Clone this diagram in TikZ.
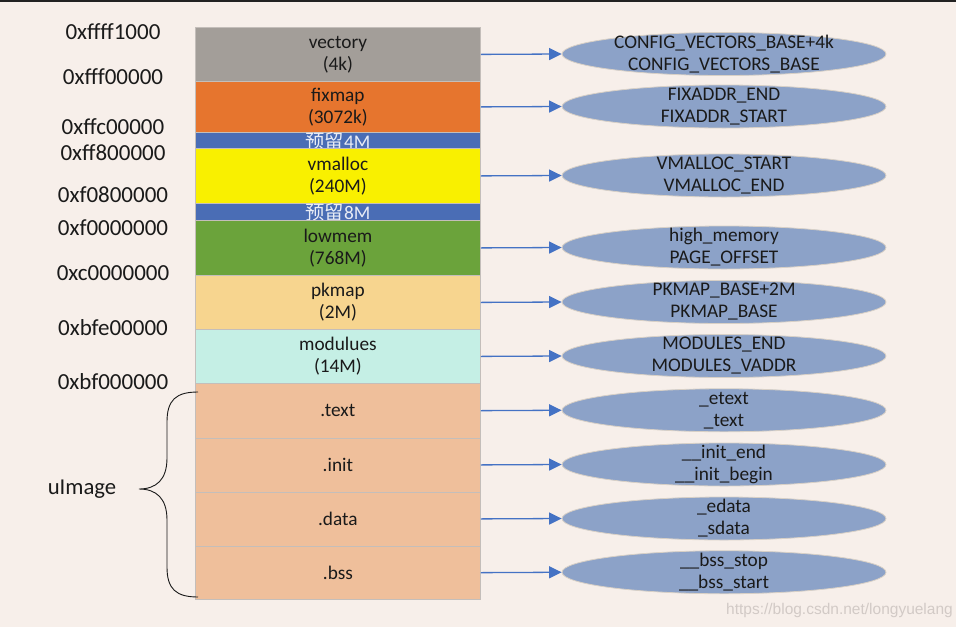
\documentclass[tikz,border=0pt]{standalone}
\usepackage{fontspec}
\setmainfont{Carlito}
\newfontfamily\cjk{Noto Sans CJK SC}
\newfontfamily\wmfont{Liberation Sans}
\usetikzlibrary{arrows.meta,shapes.geometric}
\definecolor{bg}{HTML}{F7EFEA}
\definecolor{topbar}{HTML}{222222}
\definecolor{txt}{HTML}{1A1A1A}
\definecolor{segline}{HTML}{C4BEBA}
\definecolor{cvec}{HTML}{A39E99}
\definecolor{cfix}{HTML}{E6752E}
\definecolor{cres}{HTML}{4A6DB5}
\definecolor{cvm}{HTML}{F9F000}
\definecolor{clow}{HTML}{6BA33B}
\definecolor{cpk}{HTML}{F7D58F}
\definecolor{cmod}{HTML}{C5EFE5}
\definecolor{cimg}{HTML}{EFBF9B}
\definecolor{ellfill}{HTML}{8CA2C8}
\definecolor{ellline}{HTML}{D8D0C6}
\definecolor{arrc}{HTML}{4472C4}
\definecolor{wmc}{HTML}{D2CAC6}
\definecolor{resc}{HTML}{E8ECF5}
\begin{document}
\begin{tikzpicture}[x=1pt,y=-1pt,
  seg/.style={draw=segline, line width=0.8pt, minimum width=285pt, inner sep=0pt,
    anchor=north west, align=center, font=\fontsize{19.3}{22}\selectfont, text=txt},
  ell/.style={ellipse, fill=ellfill, draw=ellline, line width=0.8pt,
    minimum width=324pt, minimum height=43pt, inner sep=0pt},
  lbl/.style={align=center, font=\fontsize{19.3}{22}\selectfont, text=txt, inner sep=0pt},
  addr/.style={font=\fontsize{23}{26}\selectfont, text=txt, inner sep=0pt},
  arr/.style={draw=arrc, line width=1.3pt, -{Triangle[length=12.5pt,width=12pt]}},
  brace/.style={draw=txt, line width=0.9pt}]
\useasboundingbox (0,0) rectangle (956,627);
\fill[bg] (0,0) rectangle (956,627);
\fill[topbar] (0,0) rectangle (956,2);

% memory segments
\node[seg, fill=cvec, minimum height=54pt] (b1) at (195,27) {vectory\\(4k)};
\node[seg, fill=cfix, minimum height=51pt] (b2) at (195,81) {fixmap\\(3072k)};
\node[seg, fill=cres, minimum height=16pt, text=resc] (r1) at (195,132) {{\cjk 预留}4M};
\node[seg, fill=cvm, minimum height=55pt] (b3) at (195,148) {vmalloc\\(240M)};
\node[seg, fill=cres, minimum height=17pt, text=resc] (r2) at (195,203) {{\cjk 预留}8M};
\node[seg, fill=clow, minimum height=55pt] (b4) at (195,220) {lowmem\\(768M)};
\node[seg, fill=cpk, minimum height=54pt] (b5) at (195,275) {pkmap\\(2M)};
\node[seg, fill=cmod, minimum height=54pt] (b6) at (195,329) {modulues\\(14M)};
\node[seg, fill=cimg, minimum height=54.5pt] (b7) at (195,383) {.text};
\node[seg, fill=cimg, minimum height=54pt] (b8) at (195,437.5) {.init};
\node[seg, fill=cimg, minimum height=54pt] (b9) at (195,491.5) {.data};
\node[seg, fill=cimg, minimum height=53.5pt] (b10) at (195,545.5) {.bss};

% address labels
\node[addr] (a1) at (113,32) {0xffff1000};
\node[addr] (a2) at (113,77) {0xfff00000};
\node[addr] (a3) at (113,127) {0xffc00000};
\node[addr] (a4) at (113,153) {0xff800000};
\node[addr] (a5) at (113,195) {0xf0800000};
\node[addr] (a6) at (113,228) {0xf0000000};
\node[addr] (a7) at (113,273) {0xc0000000};
\node[addr] (a8) at (113,328) {0xbfe00000};
\node[addr] (a9) at (113,382) {0xbf000000};

% ellipses
\node[ell, label={[lbl]center:{CONFIG\_VECTORS\_BASE+4k\\CONFIG\_VECTORS\_BASE}}] (e1) at (724,54) {};
\node[ell, label={[lbl]center:{FIXADDR\_END\\FIXADDR\_START}}] (e2) at (724,106.5) {};
\node[ell, label={[lbl]center:{VMALLOC\_START\\VMALLOC\_END}}] (e3) at (724,175.5) {};
\node[ell, label={[lbl]center:{high\_memory\\PAGE\_OFFSET}}] (e4) at (724,247.5) {};
\node[ell, label={[lbl]center:{PKMAP\_BASE+2M\\PKMAP\_BASE}}] (e5) at (724,302) {};
\node[ell, label={[lbl]center:{MODULES\_END\\MODULES\_VADDR}}] (e6) at (724,356) {};
\node[ell, label={[lbl]center:{\_etext\\\_text}}] (e7) at (724,410.25) {};
\node[ell, label={[lbl]center:{\_\_init\_end\\\_\_init\_begin}}] (e8) at (724,464.5) {};
\node[ell, label={[lbl]center:{\_edata\\\_sdata}}] (e9) at (724,518.5) {};
\node[ell, label={[lbl]center:{\_\_bss\_stop\\\_\_bss\_start}}] (e10) at (724,572.25) {};

% arrows
\draw[arr] (b1.east) -- (e1.west);
\draw[arr] (b2.east) -- (e2.west);
\draw[arr] (b3.east) -- (e3.west);
\draw[arr] (b4.east) -- (e4.west);
\draw[arr] (b5.east) -- (e5.west);
\draw[arr] (b6.east) -- (e6.west);
\draw[arr] (b7.east) -- (e7.west);
\draw[arr] (b8.east) -- (e8.west);
\draw[arr] (b9.east) -- (e9.west);
\draw[arr] (b10.east) -- (e10.west);

% brace and uImage
\draw[brace] (198,392) .. controls (176,392) and (167,400) .. (167,422) -- (167,458)
  .. controls (167,480) and (156,489) .. (139,489)
  .. controls (156,489) and (167,498) .. (167,520) -- (167,567)
  .. controls (167,589) and (176,597) .. (198,597);
\node[addr, font=\fontsize{22.7}{26}\selectfont] (ui) at (82,489) {uImage};

% watermark
\node[font=\wmfont\fontsize{15.5}{18}\selectfont, text=wmc, anchor=east, inner sep=0pt] (wm) at (953,610) {https://blog.csdn.net/longyuelang};
\end{tikzpicture}
\end{document}
